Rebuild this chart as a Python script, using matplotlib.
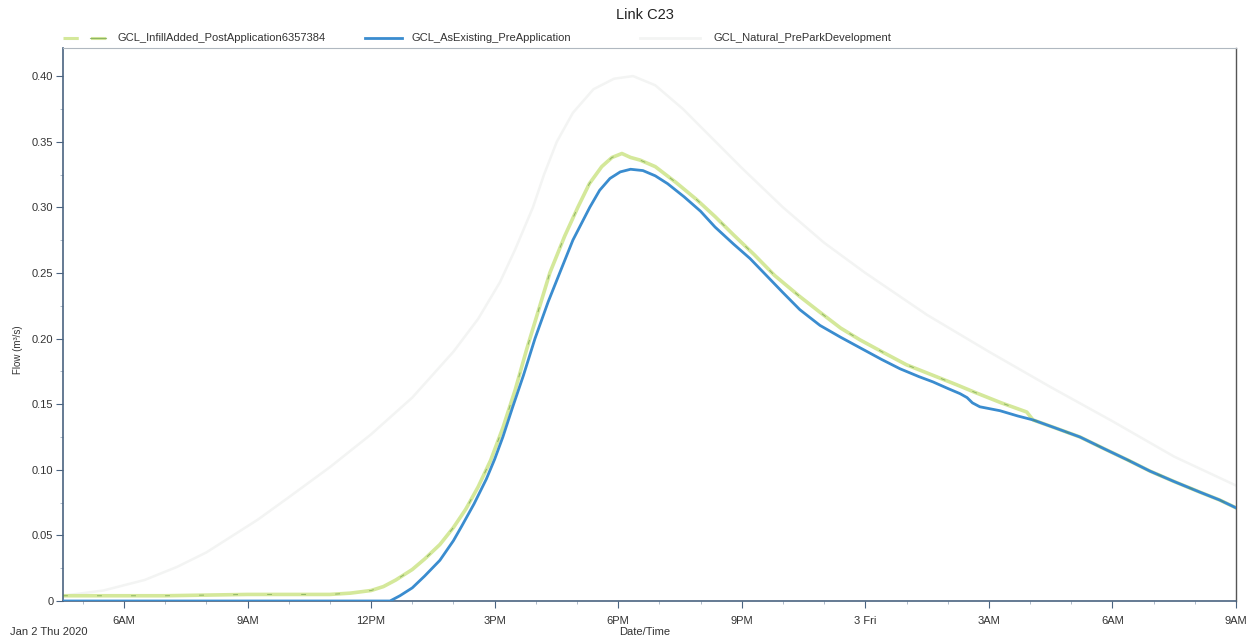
import matplotlib
matplotlib.use("Agg")
import matplotlib.pyplot as plt
import matplotlib.dates as mdates
from matplotlib.lines import Line2D
import pandas as pd

plt.rcParams['font.family'] = ['Liberation Sans', 'DejaVu Sans']

title = "Link C23"
series_names = ["GCL_InfillAdded_PostApplication6357384",
                "GCL_AsExisting_PreApplication",
                "GCL_Natural_PreParkDevelopment"]

# hours after 2020-01-02 00:00
infill_hours = [4.52, 7.0, 9.0, 11.0, 11.5, 12.0, 12.3, 12.6, 13.0, 13.3, 13.67, 14.0, 14.3,
                14.6, 14.9, 15.2, 15.5, 15.78, 16.05, 16.34, 16.7, 17.02, 17.3, 17.6, 17.85,
                18.09, 18.3, 18.53, 18.9, 19.4, 19.9, 20.35, 20.8, 21.3, 21.8, 22.41, 22.9,
                23.4, 23.87, 24.4, 25.0, 25.64, 26.2, 26.66, 27.3, 27.92, 28.07, 28.6, 29.21,
                29.8, 30.4, 30.91, 31.5, 32.12, 32.6, 33.0]
infill_flow = [0.004, 0.004, 0.005, 0.005, 0.006, 0.008, 0.011, 0.016, 0.024, 0.032, 0.043,
               0.056, 0.070, 0.087, 0.107, 0.132, 0.161, 0.192, 0.220, 0.250, 0.278, 0.300,
               0.318, 0.331, 0.338, 0.341, 0.338, 0.336, 0.331, 0.319, 0.306, 0.293, 0.279,
               0.264, 0.248, 0.232, 0.220, 0.208, 0.199, 0.190, 0.180, 0.172, 0.165, 0.159,
               0.151, 0.144, 0.138, 0.132, 0.125, 0.116, 0.107, 0.099, 0.091, 0.083, 0.077,
               0.071]

existing_hours = [4.52, 8.0, 12.0, 12.46, 12.7, 13.0, 13.3, 13.67, 14.0, 14.2, 14.5, 14.8,
                  15.0, 15.2, 15.44, 15.7, 15.98, 16.3, 16.58, 16.9, 17.31, 17.55, 17.8, 18.05,
                  18.3, 18.6, 18.9, 19.2, 19.6, 20.0, 20.35, 20.8, 21.2, 21.6, 22.0, 22.41,
                  22.9, 23.4, 23.87, 24.4, 24.84, 25.3, 25.64, 26.0, 26.3, 26.47, 26.6,
                  26.78, 27.27, 27.7, 28.07, 28.6, 29.21, 29.8, 30.4, 30.91, 31.5, 32.12,
                  32.6, 33.0]
existing_flow = [0.0, 0.0, 0.0, 0.0, 0.004, 0.010, 0.019, 0.031, 0.046, 0.057, 0.074, 0.093,
                 0.108, 0.125, 0.148, 0.172, 0.200, 0.228, 0.250, 0.275, 0.300, 0.313, 0.322,
                 0.327, 0.329, 0.328, 0.324, 0.318, 0.308, 0.297, 0.285, 0.272, 0.261, 0.248,
                 0.235, 0.222, 0.210, 0.201, 0.193, 0.184, 0.177, 0.171, 0.167, 0.162, 0.158,
                 0.155, 0.151, 0.148, 0.145, 0.141, 0.138, 0.132, 0.125, 0.116, 0.107, 0.099,
                 0.091, 0.083, 0.077, 0.071]

natural_hours = [4.52, 5.5, 6.5, 7.29, 8.0, 8.5, 9.25, 10.0, 11.0, 12.0, 13.0, 14.0, 14.6,
                 15.13, 15.5, 15.93, 16.2, 16.51, 16.9, 17.4, 17.9, 18.36, 18.9, 19.57, 20.3,
                 21.0, 22.0, 23.0, 24.0, 25.5, 27.0, 28.5, 30.0, 31.5, 33.0]
natural_flow = [0.004, 0.008, 0.016, 0.026, 0.037, 0.047, 0.062, 0.079, 0.102, 0.127, 0.155,
                0.190, 0.215, 0.243, 0.268, 0.300, 0.325, 0.350, 0.372, 0.390, 0.398, 0.400,
                0.393, 0.375, 0.352, 0.330, 0.300, 0.273, 0.250, 0.218, 0.190, 0.163, 0.137,
                0.110, 0.088]

y_ticks = [0, 0.05, 0.10, 0.15, 0.20, 0.25, 0.30, 0.35, 0.40]
y_tick_labels = ["0", "0.05", "0.10", "0.15", "0.20", "0.25", "0.30", "0.35", "0.40"]
x_tick_hours = [6, 9, 12, 15, 18, 21, 24, 27, 30, 33]
x_tick_labels = ["6AM", "9AM", "12PM", "3PM", "6PM", "9PM", "3 Fri", "3AM", "6AM", "9AM"]
date_label = "Jan 2 Thu 2020"
x_title = "Date/Time"
y_title = "Flow (m³/s)"

base = pd.Timestamp("2020-01-02 00:00")
def to_dt(hours):
    return [base + pd.Timedelta(hours=h) for h in hours]

W, H = 1254, 639
fig = plt.figure(figsize=(W/100, H/100), dpi=100)
ax = fig.add_axes([63/W, 1-601/H, (1236-63)/W, (601-48)/H])

c_green = "#d4e89a"
c_green_dash = "#5f9440"
c_blue = "#3a8ccf"
c_nat = "#f3f4f3"

ax.plot(to_dt(natural_hours), natural_flow, color=c_nat, lw=1.8, zorder=1)
ax.plot(to_dt(infill_hours), infill_flow, color=c_green, lw=2.6, zorder=2)
ax.plot(to_dt(existing_hours), existing_flow, color=c_blue, lw=2.0, zorder=3)
ax.plot(to_dt(infill_hours), infill_flow, color=c_green_dash, lw=0.7, dashes=(5, 30), alpha=0.6, zorder=4)

ax.set_xlim(base + pd.Timedelta(hours=4.52), base + pd.Timedelta(hours=33.0))
ax.set_ylim(0, 0.4214)

ax.set_yticks(y_ticks)
ax.set_yticklabels(y_tick_labels)
ax.set_xticks(to_dt(x_tick_hours))
ax.set_xticklabels(x_tick_labels)
ax.xaxis.set_minor_locator(mdates.HourLocator())
ax.yaxis.set_minor_locator(matplotlib.ticker.MultipleLocator(0.025))

ax.tick_params(axis='both', which='major', labelsize=8, length=5, color="#4a6380", labelcolor="#333333", pad=2)
ax.tick_params(axis='both', which='minor', length=2, color="#a0aec0")
ax.tick_params(axis='x', pad=6)

for s in ['left', 'bottom']:
    ax.spines[s].set_color("#4a6380")
    ax.spines[s].set_linewidth(1.2)
ax.spines['right'].set_color("#555555")
ax.spines['right'].set_linewidth(1.0)
ax.spines['top'].set_color("#b0b8c0")
ax.spines['top'].set_linewidth(0.8)

fig.text(18/W, 1-350/H, y_title, ha='center', va='center', rotation=90, fontsize=7, color="#333333")
fig.text(645/W, 1-632/H, x_title, ha='center', va='center', fontsize=8, color="#333333")
fig.text(10/W, 1-632/H, date_label, ha='left', va='center', fontsize=8, color="#333333")
fig.text(645/W, 1-15/H, title, ha='center', va='center', fontsize=10.5, color="#222222")

# legend entries (handle start, handle end, text start) in pixels
leg_y = 1 - 38/H
leg_pos = [(63, 108, 118), (365, 402, 412), (640, 700, 714)]
leg_styles = [dict(color=c_green, lw=2.2, dashes=(5, 4)),
              dict(color=c_blue, lw=2.0),
              dict(color=c_nat, lw=2.0)]
for (h0, h1, t0), name, st in zip(leg_pos, series_names, leg_styles):
    fig.add_artist(Line2D([h0/W, h1/W], [leg_y, leg_y], transform=fig.transFigure, **st))
    fig.text(t0/W, leg_y, name, ha='left', va='center', fontsize=8, color="#333333")
fig.add_artist(Line2D([90/W, 106/W], [leg_y, leg_y], transform=fig.transFigure,
                      color=c_green_dash, lw=0.8, alpha=0.6))

fig.savefig("out.png", dpi=100, facecolor="white")
